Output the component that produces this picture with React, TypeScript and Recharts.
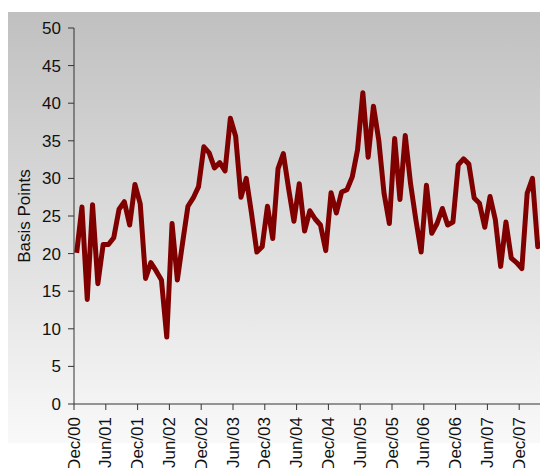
import React from 'react';
import { LineChart, Line, XAxis, YAxis } from 'recharts';

// Monthly spread in basis points, Dec 2000 onward
const spreadBp = [
  20.1, 26.2, 13.9, 26.5, 16.0, 21.2, 21.2, 22.1, 25.9, 26.9,
  23.8, 29.2, 26.6, 16.7, 18.8, 17.7, 16.5, 8.9, 24.0, 16.5,
  21.5, 26.3, 27.4, 28.9, 34.2, 33.4, 31.4, 32.1, 31.0, 38.0,
  35.6, 27.5, 30.0, 25.3, 20.2, 20.9, 26.3, 22.0, 31.3, 33.3,
  28.6, 24.3, 29.3, 23.0, 25.7, 24.6, 23.8, 20.4, 28.1, 25.4,
  28.2, 28.5, 30.2, 33.8, 41.4, 32.8, 39.6, 35.1, 28.0, 24.0,
  35.3, 27.2, 35.7, 29.3, 24.5, 20.2, 29.1, 22.7, 24.0, 26.0,
  23.8, 24.2, 31.8, 32.6, 31.9, 27.4, 26.7, 23.5, 27.6, 24.5,
  18.3, 24.2, 19.4, 18.8, 18.0, 28.0, 30.0, 20.9, 21.4, 21.6,
];

// Half-year tick labels
const tickLabels = [
  'Dec/00', 'Jun/01', 'Dec/01', 'Jun/02', 'Dec/02', 'Jun/03', 'Dec/03', 'Jun/04',
  'Dec/04', 'Jun/05', 'Dec/05', 'Jun/06', 'Dec/06', 'Jun/07', 'Dec/07',
];

const yTicks = [0, 5, 10, 15, 20, 25, 30, 35, 40, 45, 50];

const FONT = '"Liberation Sans", Arial, sans-serif';

// points sit in the middle of each monthly slot
const data = spreadBp.map((v, i) => ({ m: i + 0.5, v }));
const xTicks = tickLabels.map((_, i) => i * 6);

const DateTick = (props: any) => {
  const { x, y, payload } = props;
  return (
    <text
      x={x}
      y={y}
      transform={`rotate(-90, ${x}, ${y})`}
      textAnchor="end"
      dominantBaseline="central"
      fontSize={17}
      fontFamily={FONT}
      fill="#111"
    >
      {tickLabels[Math.round(payload.value / 6)]}
    </text>
  );
};

export default function App() {
  return (
    <div style={{ position: 'relative', left: -1, top: 4, width: 541, height: 460, overflow: 'hidden' }}>
      <div
        style={{
          position: 'absolute',
          left: 0,
          top: 0,
          width: 541,
          height: 431,
          background: 'linear-gradient(to bottom, #c0c0c0 0%, #f9f9f9 100%)',
        }}
      />
      <div style={{ position: 'absolute', left: 0, top: 0 }}>
        <LineChart width={544} height={460} data={data} margin={{ top: 16, right: 0, bottom: 0, left: 0 }}>
          <XAxis
            dataKey="m"
            type="number"
            domain={[0, 90]}
            ticks={xTicks}
            interval={0}
            height={68}
            tickSize={6}
            tickMargin={7}
            stroke="#333"
            tick={<DateTick />}
          />
          <YAxis
            type="number"
            domain={[0, 50]}
            ticks={yTicks}
            interval={0}
            width={67}
            tickSize={6}
            tickMargin={7}
            stroke="#333"
            tick={{ fill: '#111', fontSize: 17, fontFamily: FONT }}
            label={{
              value: 'Basis Points',
              angle: -90,
              position: 'insideLeft',
              offset: 17,
              style: { textAnchor: 'middle', fontSize: 17, fontFamily: FONT, fill: '#111' },
            }}
          />
          <Line
            type="linear"
            dataKey="v"
            stroke="#800000"
            strokeWidth={5}
            strokeLinejoin="round"
            dot={false}
            activeDot={false}
            isAnimationActive={false}
          />
        </LineChart>
      </div>
    </div>
  );
}
